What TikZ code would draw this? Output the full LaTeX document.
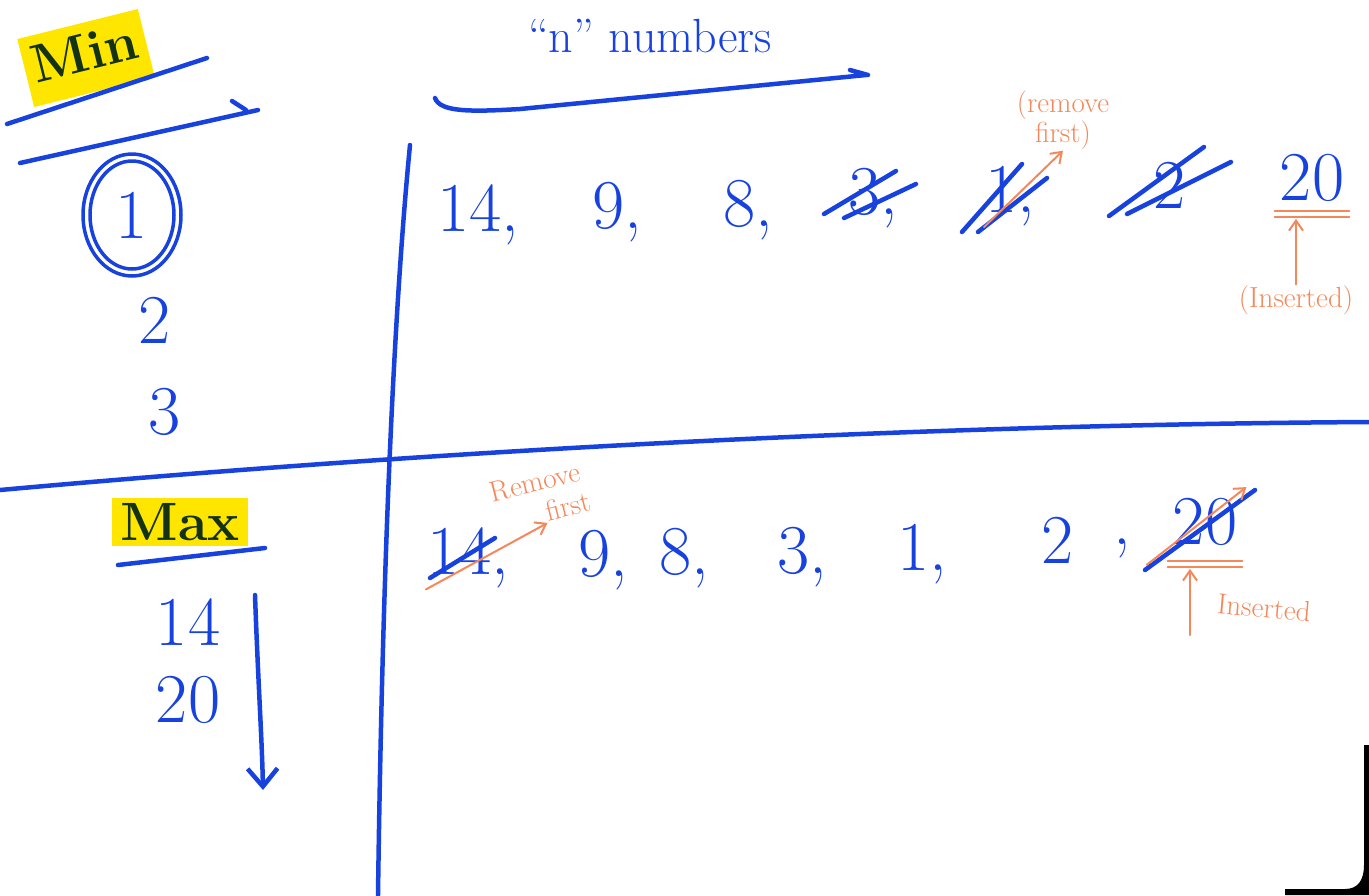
\documentclass[tikz,border=0pt]{standalone}
\usepackage{fontspec}
\usetikzlibrary{positioning,arrows.meta,calc}
\definecolor{penblue}{RGB}{24,66,222}
\definecolor{penorange}{RGB}{244,136,90}
\definecolor{marker}{RGB}{255,230,0}
\definecolor{inkgreen}{RGB}{20,50,20}
\tikzset{
    pen/.style={
        draw=penblue,line width=4.5pt,line cap=round,line join=round
    },
    notepen/.style={
        draw=penorange,line width=2pt,line cap=round
    },
    numnode/.style={
        text=penblue,font=\fontsize{70}{70}\selectfont,inner sep=1pt
    },
    notenode/.style={
        text=penorange,font=\fontsize{29}{27}\selectfont,align=center,inner sep=1pt
    },
    headnode/.style={
        fill=marker,text=inkgreen,font=\fontsize{54}{54}\selectfont\bfseries,inner xsep=8pt,inner ysep=5pt
    }
}

\begin{document}
\begin{tikzpicture}[x=1pt,y=-1pt,>={Straight Barb[length=10pt,width=14pt]}]
\useasboundingbox (0,0) rectangle (1369,895);
% screen corner
\fill[black] (1364,745) -- (1369,745) -- (1369,895) -- (1285,895) -- (1285,889) -- (1345,889) .. controls (1358,889) and (1364,880) .. (1364,865) -- cycle;
% the two dividing lines
\draw[pen] (410,145) .. controls (392,330) and (382,600) .. (378,895);
\draw[pen] (0,490) .. controls (420,452) and (900,425) .. (1369,422);
% min column
\node[headnode,rotate=14,minimum width=108pt,minimum height=70pt,text depth=12pt] (minhead) at (86,58) {Min};
\draw[pen] (7,124) -- (207,58);
\draw[pen] (20,163) -- (258,110) (232,101) -- (246,110);
\node[numnode] (minone) at (132,215) {1};
\draw[pen,line width=3.5pt] (minone) ellipse [x radius=42pt,y radius=54pt] (minone) ellipse [x radius=49pt,y radius=61pt];
\node[numnode] (mintwo) at (155,320) {2};
\node[numnode] (minthree) at (165,412) {3};
% max column
\node[headnode] (maxhead) at (180,522) {Max};
\draw[pen] (118,565) -- (265,548);
\node[numnode] (maxfourteen) at (188,622) {14};
\node[numnode] (maxtwenty) at (188,700) {20};
\coordinate (maxtop) at (255,595);
\coordinate (maxend) at (263,790);
\draw[pen,-{Straight Barb[length=18pt,width=30pt]}] (maxtop) .. controls (258,680) and (262,740) .. (maxend);
% header
\node[numnode,font=\fontsize{48}{48}\selectfont] (header) at (650,36) {``n'' numbers};
\draw[pen] (435,98) .. controls (440,112) and (470,112) .. (520,109) -- (866,75) (850,70) -- (868,75);
% top row
\node[numnode] (tfourteen) at (478,215) {14,};
\node[numnode] (tnine) at (617,212) {9,};
\node[numnode] (teight) at (748,210) {8,};
\node[numnode] (tthree) at (873,198) {3,};
\node[numnode] (tone) at (1010,196) {1,};
\node[numnode] (ttwo) at (1170,185) {2};
\node[numnode] (ttwenty) at (1312,178) {20};
\draw[pen] (824,214) -- (896,171) (844,218) -- (916,184);
\draw[pen] (962,232) -- (1022,164) (978,232) -- (1047,178);
\draw[pen] (1109,216) -- (1204,147) (1127,214) -- (1231,162);
\node[notenode] (tremove) at (1063,120) {(remove\\first)};
\draw[notepen,->] (tone.south west) -- (tremove.south);
\node[notenode] (tinserted) at (1296,300) {(Inserted)};
\draw[notepen] ($(ttwenty.south west)+(-4,8)$) -- ($(ttwenty.south east)+(4,8)$);
\draw[notepen] ($(ttwenty.south west)+(-4,14)$) -- ($(ttwenty.south east)+(4,14)$);
\coordinate (tmark) at ($(ttwenty.south)+(0,16)$);
\draw[notepen,->] (tinserted.north) -- (tinserted.north |- tmark);
% bottom row
\node[numnode] (bfourteen) at (468,558) {14,};
\node[numnode] (bnine) at (603,560) {9,};
\node[numnode] (beight) at (684,558) {8,};
\node[numnode] (bthree) at (802,557) {3,};
\node[numnode] (bone) at (922,554) {1,};
\node[numnode] (btwo) at (1058,540) {2};
\node[numnode] (bcomma) at (1122,548) {,};
\node[numnode] (btwenty) at (1205,522) {20};
\draw[pen] (430,578) -- (495,538);
\draw[pen] (1145,570) -- (1255,490);
\node[notenode,rotate=14] (bremove) at (535,482) {Remove};
\node[notenode,rotate=14] (bfirst) at (568,506) {first};
\draw[notepen,->] (bfourteen.south west) -- (bfirst.south west);
\coordinate (bpush) at ($(btwenty.north east)+(8,-10)$);
\draw[notepen,->] ($(btwenty.south west)+(-25,18)$) -- (bpush);
\draw[notepen] ($(btwenty.south west)+(-4,14)$) -- ($(btwenty.south east)+(4,14)$);
\draw[notepen] ($(btwenty.south west)+(-4,20)$) -- ($(btwenty.south east)+(4,20)$);
\node[notenode,rotate=-5] (binserted) at (1264,608) {Inserted};
\coordinate (bmark) at ($(btwenty.south)+(-15,22)$);
\draw[notepen,->] (binserted.south west -| bmark) ++(0,20) -- (bmark);
\end{tikzpicture}
\end{document}
